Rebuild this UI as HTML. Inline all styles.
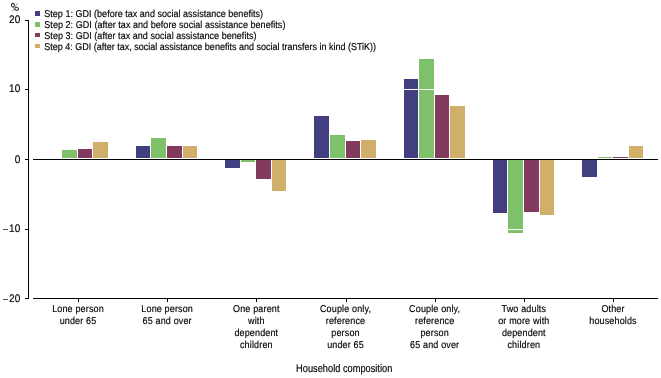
<!DOCTYPE html>
<html><head><meta charset="utf-8"><style>
html,body{margin:0;padding:0;background:#fff;width:661px;height:378px;overflow:hidden}
svg{display:block;will-change:transform}
text{font-family:"Liberation Sans",sans-serif;fill:#000;stroke:#000;stroke-width:0.15px;text-rendering:geometricPrecision}
</style></head><body>
<svg width="661" height="378" viewBox="0 0 661 378" shape-rendering="crispEdges">
<rect x="62" y="150" width="15" height="8" fill="#7FC06A"/>
<rect x="78" y="149" width="14" height="9" fill="#823A5E"/>
<rect x="93" y="142" width="15" height="16" fill="#D1AE69"/>
<rect x="136" y="146" width="14" height="12" fill="#423F80"/>
<rect x="151" y="138" width="15" height="20" fill="#7FC06A"/>
<rect x="167" y="146" width="15" height="12" fill="#823A5E"/>
<rect x="183" y="146" width="14" height="12" fill="#D1AE69"/>
<rect x="225" y="160" width="15" height="8" fill="#423F80"/>
<rect x="241" y="160" width="14" height="2" fill="#7FC06A"/>
<rect x="256" y="160" width="15" height="19" fill="#823A5E"/>
<rect x="272" y="160" width="14" height="31" fill="#D1AE69"/>
<rect x="314" y="116" width="15" height="42" fill="#423F80"/>
<rect x="330" y="135" width="15" height="23" fill="#7FC06A"/>
<rect x="346" y="141" width="14" height="17" fill="#823A5E"/>
<rect x="361" y="140" width="15" height="18" fill="#D1AE69"/>
<rect x="404" y="79" width="14" height="79" fill="#423F80"/>
<rect x="419" y="59" width="15" height="99" fill="#7FC06A"/>
<rect x="435" y="95" width="14" height="63" fill="#823A5E"/>
<rect x="450" y="106" width="15" height="52" fill="#D1AE69"/>
<rect x="493" y="160" width="14" height="53" fill="#423F80"/>
<rect x="508" y="160" width="15" height="73" fill="#7FC06A"/>
<rect x="524" y="160" width="15" height="52" fill="#823A5E"/>
<rect x="540" y="160" width="14" height="55" fill="#D1AE69"/>
<rect x="582" y="160" width="15" height="17" fill="#423F80"/>
<rect x="598" y="157" width="14" height="1" fill="#7FC06A"/>
<rect x="613" y="157" width="15" height="1" fill="#823A5E"/>
<rect x="629" y="146" width="14" height="12" fill="#D1AE69"/>
<rect x="33" y="89" width="625" height="1" fill="#fff"/>
<rect x="33" y="229" width="625" height="1" fill="#fff"/>
<rect x="28" y="20" width="1" height="279" fill="#000"/>
<rect x="25" y="20" width="3" height="1" fill="#000"/>
<rect x="25" y="89" width="3" height="1" fill="#000"/>
<rect x="25" y="159" width="3" height="1" fill="#000"/>
<rect x="25" y="229" width="3" height="1" fill="#000"/>
<rect x="25" y="298" width="3" height="1" fill="#000"/>
<rect x="33" y="159" width="625" height="1" fill="#000"/>
<rect x="33" y="298" width="625" height="1" fill="#000"/>
<rect x="78" y="299" width="1" height="3" fill="#000"/>
<rect x="167" y="299" width="1" height="3" fill="#000"/>
<rect x="256" y="299" width="1" height="3" fill="#000"/>
<rect x="346" y="299" width="1" height="3" fill="#000"/>
<rect x="435" y="299" width="1" height="3" fill="#000"/>
<rect x="524" y="299" width="1" height="3" fill="#000"/>
<rect x="613" y="299" width="1" height="3" fill="#000"/>
<rect x="3" y="229" width="5" height="1" fill="#555"/>
<rect x="3" y="299" width="5" height="1" fill="#555"/>
<text transform="translate(20.20,23.30) scale(1,1.1)" font-size="10" text-anchor="end">20</text>
<text transform="translate(20.20,92.30) scale(1,1.1)" font-size="10" text-anchor="end">10</text>
<text transform="translate(20.20,162.80) scale(1,1.1)" font-size="10" text-anchor="end">0</text>
<text transform="translate(20.20,232.30) scale(1,1.1)" font-size="10" text-anchor="end">10</text>
<text transform="translate(20.20,301.80) scale(1,1.1)" font-size="10" text-anchor="end">20</text>
<g fill="none" stroke="#000" stroke-width="0.95" shape-rendering="geometricPrecision"><ellipse cx="12.95" cy="5.2" rx="1.45" ry="2.0"/><ellipse cx="16.6" cy="8.9" rx="1.95" ry="1.5"/></g><line x1="17.6" y1="3" x2="12.2" y2="11.5" stroke="#888" stroke-width="0.8" shape-rendering="geometricPrecision"/>
<rect x="35" y="11" width="5" height="5" fill="#423F80"/>
<text transform="translate(44.30,16.80) scale(1,1.1)" font-size="9" text-anchor="start" letter-spacing="0.02">Step 1: GDI (before tax and social assistance benefits)</text>
<rect x="35" y="22" width="5" height="5" fill="#7FC06A"/>
<text transform="translate(44.30,27.80) scale(1,1.1)" font-size="9" text-anchor="start" letter-spacing="0.05">Step 2: GDI (after tax and before social assistance benefits)</text>
<rect x="35" y="33" width="5" height="4" fill="#823A5E"/>
<text transform="translate(44.30,38.80) scale(1,1.1)" font-size="9" text-anchor="start" letter-spacing="0.04">Step 3: GDI (after tax and social assistance benefits)</text>
<rect x="35" y="44" width="5" height="4" fill="#D1AE69"/>
<text transform="translate(44.30,49.80) scale(1,1.1)" font-size="9" text-anchor="start">Step 4: GDI (after tax, social assistance benefits and social transfers in kind (STiK))</text>
<text transform="translate(78.00,312.00) scale(1,1.1)" font-size="9" text-anchor="middle" letter-spacing="0.15">Lone person</text>
<text transform="translate(78.00,323.85) scale(1,1.1)" font-size="9" text-anchor="middle" letter-spacing="0.15">under 65</text>
<text transform="translate(167.17,312.00) scale(1,1.1)" font-size="9" text-anchor="middle" letter-spacing="0.15">Lone person</text>
<text transform="translate(167.17,323.85) scale(1,1.1)" font-size="9" text-anchor="middle" letter-spacing="0.15">65 and over</text>
<text transform="translate(256.33,312.00) scale(1,1.1)" font-size="9" text-anchor="middle" letter-spacing="0.15">One parent</text>
<text transform="translate(256.33,323.85) scale(1,1.1)" font-size="9" text-anchor="middle" letter-spacing="0.15">with</text>
<text transform="translate(256.33,335.70) scale(1,1.1)" font-size="9" text-anchor="middle" letter-spacing="0.15">dependent</text>
<text transform="translate(256.33,347.55) scale(1,1.1)" font-size="9" text-anchor="middle" letter-spacing="0.15">children</text>
<text transform="translate(345.50,312.00) scale(1,1.1)" font-size="9" text-anchor="middle" letter-spacing="0.15">Couple only,</text>
<text transform="translate(345.50,323.85) scale(1,1.1)" font-size="9" text-anchor="middle" letter-spacing="0.15">reference</text>
<text transform="translate(345.50,335.70) scale(1,1.1)" font-size="9" text-anchor="middle" letter-spacing="0.15">person</text>
<text transform="translate(345.50,347.55) scale(1,1.1)" font-size="9" text-anchor="middle" letter-spacing="0.15">under 65</text>
<text transform="translate(434.67,312.00) scale(1,1.1)" font-size="9" text-anchor="middle" letter-spacing="0.15">Couple only,</text>
<text transform="translate(434.67,323.85) scale(1,1.1)" font-size="9" text-anchor="middle" letter-spacing="0.15">reference</text>
<text transform="translate(434.67,335.70) scale(1,1.1)" font-size="9" text-anchor="middle" letter-spacing="0.15">person</text>
<text transform="translate(434.67,347.55) scale(1,1.1)" font-size="9" text-anchor="middle" letter-spacing="0.15">65 and over</text>
<text transform="translate(523.83,312.00) scale(1,1.1)" font-size="9" text-anchor="middle" letter-spacing="0.15">Two adults</text>
<text transform="translate(523.83,323.85) scale(1,1.1)" font-size="9" text-anchor="middle" letter-spacing="0.15">or more with</text>
<text transform="translate(523.83,335.70) scale(1,1.1)" font-size="9" text-anchor="middle" letter-spacing="0.15">dependent</text>
<text transform="translate(523.83,347.55) scale(1,1.1)" font-size="9" text-anchor="middle" letter-spacing="0.15">children</text>
<text transform="translate(613.00,312.00) scale(1,1.1)" font-size="9" text-anchor="middle" letter-spacing="0.15">Other</text>
<text transform="translate(613.00,323.85) scale(1,1.1)" font-size="9" text-anchor="middle" letter-spacing="0.15">households</text>
<text transform="translate(344.20,372.00) scale(1,1.2)" font-size="9.25" text-anchor="middle">Household composition</text>
</svg></body></html>
